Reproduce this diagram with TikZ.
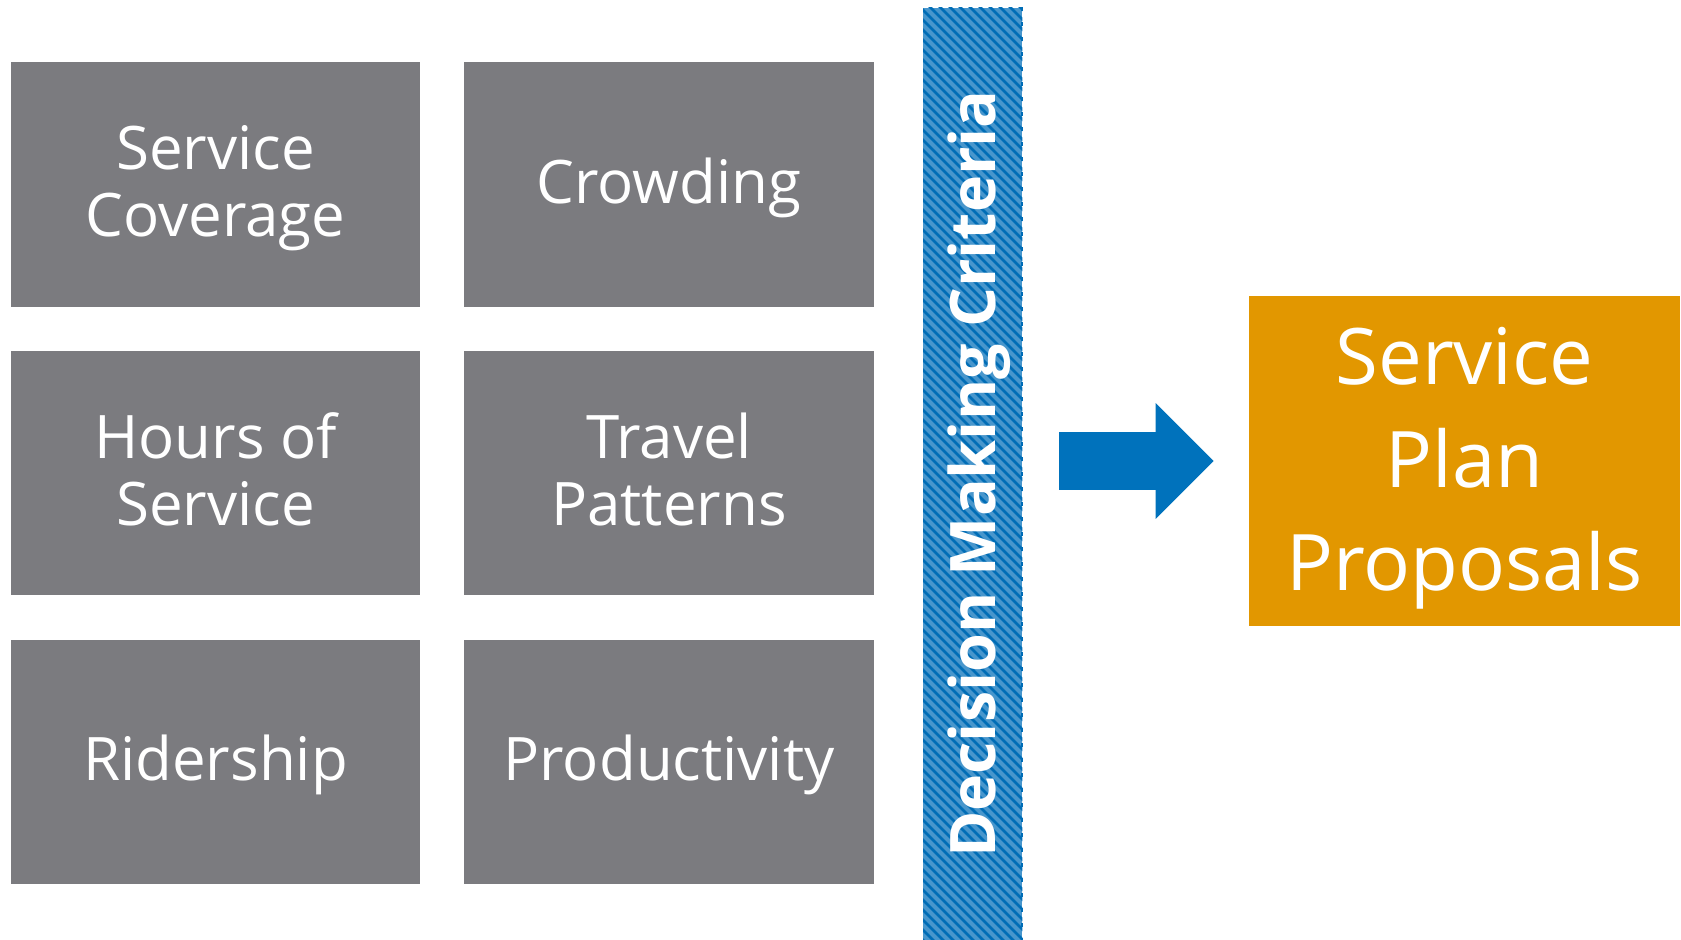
\documentclass[tikz,border=0pt]{standalone}
\usepackage{fontspec}
\setmainfont{Open Sans}
\definecolor{boxgray}{HTML}{7B7B7F}
\definecolor{planorange}{HTML}{E29700}
\definecolor{barlight}{HTML}{4896CC}
\definecolor{bardark}{HTML}{006DB6}
\definecolor{arrowblue}{HTML}{0072BC}
\begin{document}
\begin{tikzpicture}[x=0.5pt,y=-0.5pt,
  critlabel/.style={inner sep=0pt, align=center, text=white, yshift=-2.8pt,
    font=\fontsize{30}{33.5}\selectfont},
  critbox/.style={fill=boxgray, minimum width=204.8pt, minimum height=122.2pt,
    inner sep=0pt, label={[critlabel]center:#1}},
  planlabel/.style={inner sep=0pt, align=center, text=white, yshift=-3pt,
    font=\fontsize{39}{51.5}\selectfont},
  planbox/.style={fill=planorange, minimum width=215.5pt, minimum height=165.1pt,
    inner sep=0pt, label={[planlabel]center:#1}},
  barlabel/.style={rotate=90, anchor=base, text=white,
    font=\fontsize{31.4}{36}\selectfont\bfseries},
  stripe/.style={draw=bardark, line width=1.3pt},
  arrowshape/.style={fill=arrowblue, draw=none}]
\useasboundingbox (0,0) rectangle (1681,940);
\fill[white] (0,0) rectangle (1681,940);

% criteria boxes
\node[critbox={\strut Service\\\strut Coverage}] (cov)  at (215.5,184.4) {};
\node[critbox={\strut Crowding}] (crowd) at (669,184.4) {};
\node[critbox={\strut Hours of\\\strut Service}] (hours) at (215.5,472.8) {};
\node[critbox={\strut Travel\\\strut Patterns}] (travel) at (669,472.8) {};
\node[critbox={\strut Ridership}] (rider) at (215.5,761.7) {};
\node[critbox={\strut Productivity}] (prod) at (669,761.7) {};

% striped bar
\node[fill=barlight, minimum width=49.3pt, minimum height=470pt, inner sep=0pt,
  anchor=north west] (bar) at (923,7.5) {};
\begin{scope}
  \clip (bar.north west) rectangle (bar.south east);
  \foreach \k in {0,...,200} {
    \draw[stripe] ({-27+10*\k},0) -- ++(950,950);
  }
\end{scope}
\draw[bardark, line width=1pt, dash pattern=on 2pt off 5.5pt]
  (bar.north east) -- (bar.south east);
\node[barlabel] (crit) at (995,474) {Decision Making Criteria};

% arrow
\coordinate (a1) at (1059.2,432.1);
\fill[arrowshape] (a1) -- (1155.7,432.1) -- (1155.7,403.1) -- (1213.6,461)
  -- (1155.7,518.9) -- (1155.7,490) -- (1059.2,490) -- cycle;

% plan box
\node[planbox={\strut Service\\\strut Plan\\\strut Proposals}] (plan) at (1464.5,461) {};
\end{tikzpicture}
\end{document}
